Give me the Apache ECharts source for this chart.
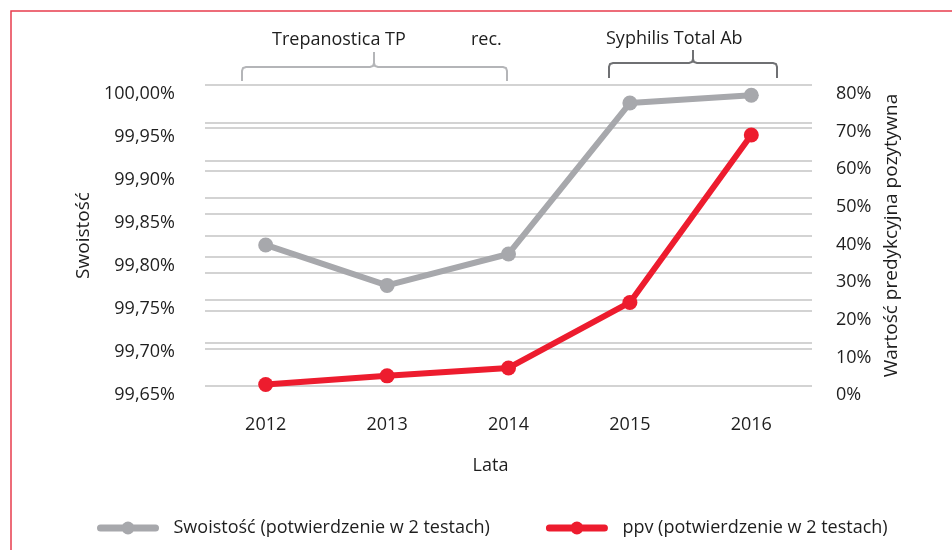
<!DOCTYPE html>
<html>
<head>
<meta charset="utf-8">
<script src="https://cdn.jsdelivr.net/npm/echarts@6.0.0/dist/echarts.min.js"></script>
<style>
html, body { margin: 0; padding: 0; background: #fff; }
#main { width: 952px; height: 550px; }
</style>
</head>
<body>
<div id="main"></div>
<script>
// lata
var years = ["2012", "2013", "2014", "2015", "2016"];
// swoistość (%) - lewa oś
var swoistosc = [99.814, 99.767, 99.8035, 99.979, 99.988];
// ppv (%) - prawa oś
var ppv = [0.4, 2.7, 4.8, 22.2, 66.7];
// nazwy serii
var seriesNames = ["Swoistość (potwierdzenie w 2 testach)", "ppv (potwierdzenie w 2 testach)"];
// opisy nad wykresem
var topNotes = ["Trepanostica TP", "rec.", "Syphilis Total Ab"];

var FONT = "Open Sans";
var TXT = "#1e1e1e";
var GRAY = "#a7a8ac";
var RED = "#ed1c2e";

// klamra: x0..x1, dół yb, góra yt, szpic do ys w xm
function bracket(x0, x1, xm, yb, yt, ys, color) {
  var r = 4;
  return {
    type: "polyline",
    silent: true,
    shape: {
      points: [
        [x0, yb], [x0, yt + r], [x0 + 1, yt + 1], [x0 + r, yt],
        [xm - r, yt], [xm - 1, yt - 1], [xm, yt - r], [xm, ys],
        [xm, yt - r], [xm + 1, yt - 1], [xm + r, yt],
        [x1 - r, yt], [x1 - 1, yt + 1], [x1, yt + r], [x1, yb]
      ]
    },
    style: { fill: null, stroke: color, lineWidth: 2 }
  };
}

var chartDom = document.getElementById("main");
var myChart = echarts.init(chartDom);
var option;
option = {
  animation: false,
  textStyle: { fontFamily: FONT, color: TXT },
  grid: { left: 205, right: 140, top: 85, bottom: 164 },
  legend: {
    left: 92,
    top: 514,
    itemWidth: 55,
    itemHeight: 16,
    itemGap: 56,
    lineStyle: { width: 7, cap: "round" },
    textStyle: { fontFamily: FONT, fontSize: 18, color: TXT, padding: [0, 0, 0, 13] },
    data: seriesNames
  },
  xAxis: {
    type: "category",
    data: years,
    name: "Lata",
    nameLocation: "middle",
    nameGap: 71,
    nameTextStyle: { fontFamily: FONT, fontSize: 18, color: TXT, padding: [0, 36, 0, 0] },
    axisLine: { show: false },
    axisTick: { show: false },
    axisLabel: { margin: 30, fontFamily: FONT, fontSize: 18, color: TXT }
  },
  yAxis: [
    {
      type: "value",
      min: 99.65,
      max: 100,
      interval: 0.05,
      name: "Swoistość",
      nameLocation: "middle",
      nameGap: 110,
      nameTextStyle: { fontFamily: FONT, fontSize: 19, color: TXT },
      axisLine: { show: false },
      axisTick: { show: false },
      splitLine: { lineStyle: { color: "#d3d3d3", width: 2 } },
      axisLabel: {
        margin: 30,
        fontFamily: FONT, fontSize: 18, color: TXT,
        verticalAlign: "top",
        lineHeight: 18,
        formatter: function (v) { return v.toFixed(2).replace(".", ",") + "%"; }
      }
    },
    {
      type: "value",
      min: 0,
      max: 80,
      interval: 10,
      name: "Wartość predykcyjna pozytywna",
      nameLocation: "middle",
      nameGap: 66,
      nameTextStyle: { fontFamily: FONT, fontSize: 19, color: TXT },
      axisLine: { show: false },
      axisTick: { show: false },
      splitLine: { lineStyle: { color: "#d3d3d3", width: 2 } },
      axisLabel: {
        margin: 24,
        fontFamily: FONT, fontSize: 18, color: TXT,
        verticalAlign: "top",
        lineHeight: 18,
        formatter: function (v) { return v + "%"; }
      }
    }
  ],
  graphic: [
    // czerwona ramka
    { type: "rect", silent: true, shape: { x: 11, y: 11, width: 960, height: 560 },
      style: { fill: null, stroke: "#e83d4e", lineWidth: 1.5 } },
    bracket(242, 507, 374, 81, 67, 52, "#b4b5b8"),
    bracket(609, 777, 693, 78, 63, 50, "#6f7073"),
    { type: "text", x: 272, y: 31, style: { text: topNotes[0], font: "18px " + FONT, fill: TXT } },
    { type: "text", x: 471, y: 31, style: { text: topNotes[1], font: "18px " + FONT, fill: TXT } },
    { type: "text", x: 606, y: 30, style: { text: topNotes[2], font: "18px " + FONT, fill: TXT } }
  ],
  series: [
    {
      name: seriesNames[0],
      type: "line",
      yAxisIndex: 0,
      data: swoistosc,
      symbol: "circle",
      symbolSize: 15,
      itemStyle: { color: GRAY },
      lineStyle: { color: GRAY, width: 6 }
    },
    {
      name: seriesNames[1],
      type: "line",
      yAxisIndex: 1,
      data: ppv,
      symbol: "circle",
      symbolSize: 15,
      itemStyle: { color: RED },
      lineStyle: { color: RED, width: 6 }
    }
  ]
};

option && myChart.setOption(option);
</script>
</body>
</html>
